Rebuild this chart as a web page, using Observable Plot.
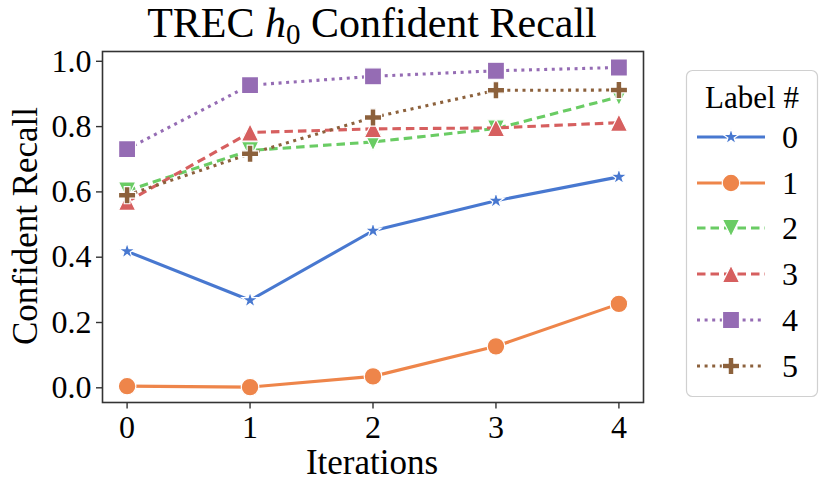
<!DOCTYPE html>
<html>
<head>
<meta charset="utf-8">
<script src="https://cdn.jsdelivr.net/npm/d3@7"></script>
<script src="https://cdn.jsdelivr.net/npm/@observablehq/plot@0.6"></script>
<style>
  html, body { margin: 0; padding: 0; background: #fff; }
  #chart { width: 830px; height: 494px; }
</style>
</head>
<body>
<div id="chart"></div>
<script>
// ---- data ----
const iterations = [0, 1, 2, 3, 4];
const labels = ["0", "1", "2", "3", "4", "5"];
const recall0 = [0.418, 0.268, 0.481, 0.573, 0.646];
const recall1 = [0.005, 0.002, 0.035, 0.127, 0.257];
const recall2 = [0.604, 0.727, 0.753, 0.794, 0.891];
const recall3 = [0.570, 0.782, 0.793, 0.796, 0.812];
const recall4 = [0.731, 0.927, 0.954, 0.971, 0.981];
const recall5 = [0.590, 0.717, 0.828, 0.911, 0.912];
const yTicks = [0.0, 0.2, 0.4, 0.6, 0.8, 1.0];
const colors = ["#4878d0", "#ee854a", "#6acc64", "#d65f5f", "#956cb4", "#8c613c"];
const dashes = [null, null, "8.5,5", "8.5,5", "3,4.6", "3,4.6"];

// ---- custom marker symbols (size = PI r^2, r = half marker size) ----
const rad = (size) => Math.sqrt(size / Math.PI);
const symStar = { draw(ctx, size) { const r = rad(size); d3.symbolStar.draw(ctx, r * r / 0.8908130915292852); } };
const symCircle = { draw(ctx, size) { const r = rad(size); ctx.moveTo(r, 0); ctx.arc(0, 0, r, 0, 2 * Math.PI); } };
const symTriDown = { draw(ctx, size) { const r = rad(size); ctx.moveTo(0, r); ctx.lineTo(r, -r); ctx.lineTo(-r, -r); ctx.closePath(); } };
const symTriUp = { draw(ctx, size) { const r = rad(size); ctx.moveTo(0, -r); ctx.lineTo(r, r); ctx.lineTo(-r, r); ctx.closePath(); } };
const symSquare = { draw(ctx, size) { const r = rad(size); ctx.rect(-r, -r, 2 * r, 2 * r); } };
const symPlus = { draw(ctx, size) { const r = rad(size); const a = r / 3;
  ctx.moveTo(-a, -r); ctx.lineTo(a, -r); ctx.lineTo(a, -a); ctx.lineTo(r, -a); ctx.lineTo(r, a);
  ctx.lineTo(a, a); ctx.lineTo(a, r); ctx.lineTo(-a, r); ctx.lineTo(-a, a); ctx.lineTo(-r, a);
  ctx.lineTo(-r, -a); ctx.lineTo(-a, -a); ctx.closePath(); } };
const symbols = [symStar, symCircle, symTriDown, symTriUp, symSquare, symPlus];
const radii = [8.6, 8.8, 8.7, 8.7, 8.5, 8.6];

const seriesValues = [recall0, recall1, recall2, recall3, recall4, recall5];
const tables = seriesValues.map((vals, s) => vals.map((v, i) => ({ iter: iterations[i], value: v, label: labels[s] })));

const marks = [];
tables.forEach((t, s) => {
  marks.push(Plot.line(t, { x: "iter", y: "value", stroke: colors[s], strokeWidth: 3.1, strokeDasharray: dashes[s] || undefined, strokeLinecap: "butt", strokeLinejoin: "round" }));
  marks.push(Plot.dot(t, { x: "iter", y: "value", symbol: symbols[s], r: radii[s], fill: colors[s], stroke: "white", strokeWidth: 1.2 }));
});

const chart = Plot.plot({
  width: 830,
  height: 494,
  marginLeft: 102,
  marginRight: 187,
  marginTop: 51,
  marginBottom: 92,
  style: { fontFamily: "'Liberation Serif', 'Times New Roman', serif", background: "#fff", color: "#000" },
  x: { domain: [-0.2, 4.2] },
  y: { domain: [-0.045, 1.03] },
  marks: [
    Plot.axisY({ ticks: yTicks, tickFormat: d3.format(".1f"), tickSize: 6, tickPadding: 5, fontSize: 32, label: null, stroke: "#333", strokeWidth: 1.4, color: "#000" }),
    Plot.axisX({ ticks: iterations, tickFormat: d3.format("d"), tickSize: 6.5, tickPadding: 6, fontSize: 32, label: null, stroke: "#333", strokeWidth: 1.4 }),
    ...marks,
    Plot.frame({ stroke: "#333", strokeWidth: 1.6 })
  ]
});
document.getElementById("chart").appendChild(chart);

// ---- title, axis labels, legend ----
const svg = d3.select(chart);
const title = svg.append("text").attr("x", 372).attr("y", 37).attr("text-anchor", "middle")
  .attr("font-size", 42).attr("fill", "#000");
title.append("tspan").text("TREC ");
title.append("tspan").attr("font-style", "italic").text("h");
title.append("tspan").attr("font-size", 29).attr("dy", 7).text("0");
title.append("tspan").attr("dy", -7).text(" Confident Recall");

svg.append("text").attr("transform", "translate(37,226) rotate(-90)").attr("text-anchor", "middle")
  .attr("font-size", 35).attr("fill", "#000").text("Confident Recall");
svg.append("text").attr("x", 372).attr("y", 474).attr("text-anchor", "middle")
  .attr("font-size", 35).attr("fill", "#000").text("Iterations");

const lg = svg.append("g");
lg.append("rect").attr("x", 686.5).attr("y", 70.5).attr("width", 131).attr("height", 326).attr("rx", 6)
  .attr("fill", "#fff").attr("stroke", "#d0d0d0").attr("stroke-width", 1.2);
lg.append("text").attr("x", 752).attr("y", 108).attr("text-anchor", "middle").attr("font-size", 31).attr("fill", "#000").text("Label #");
const rowY = [137, 183, 228, 274, 320, 366];
labels.forEach((lab, s) => {
  const y = rowY[s];
  lg.append("line").attr("x1", 697).attr("x2", 765).attr("y1", y).attr("y2", y)
    .attr("stroke", colors[s]).attr("stroke-width", 3.1).attr("stroke-dasharray", dashes[s]).attr("stroke-linecap", "butt");
  lg.append("path").attr("transform", `translate(731,${y})`)
    .attr("d", d3.symbol(symbols[s], Math.PI * radii[s] * radii[s])())
    .attr("fill", colors[s]).attr("stroke", "white").attr("stroke-width", 1.2);
  lg.append("text").attr("x", 790).attr("y", y + 11).attr("font-size", 32).attr("fill", "#000").text(lab);
});
</script>
</body>
</html>
